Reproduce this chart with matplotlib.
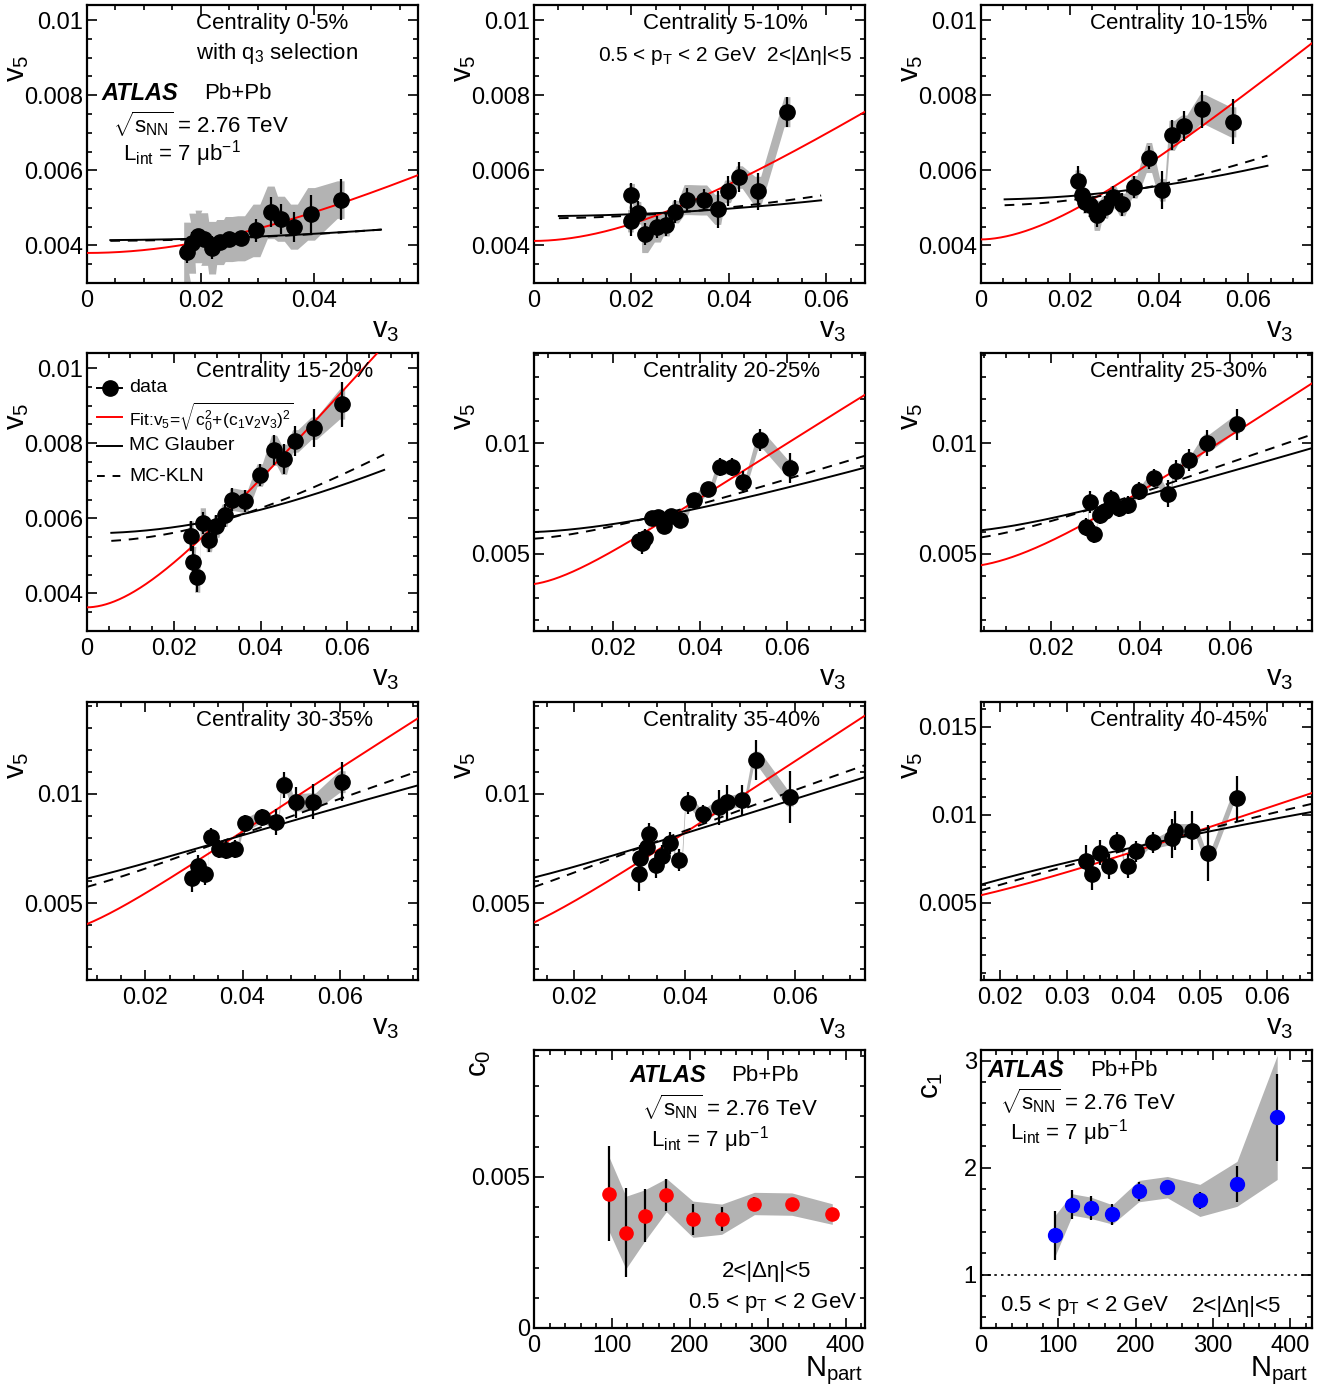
import numpy as np
import matplotlib
matplotlib.use("Agg")
import matplotlib.pyplot as plt
from matplotlib.ticker import MultipleLocator, FormatStrFormatter

plt.rcParams["font.family"] = ["Liberation Sans", "DejaVu Sans"]
plt.rcParams["mathtext.fontset"] = "custom"
plt.rcParams["mathtext.rm"] = "Liberation Sans"
plt.rcParams["mathtext.it"] = "Liberation Sans:italic"
plt.rcParams["mathtext.bf"] = "Liberation Sans:bold"
plt.rcParams["mathtext.default"] = "regular"

# ---- v5 vs v3 data, one block per centrality class ----
cent_labels = ["0-5%", "5-10%", "10-15%", "15-20%", "20-25%",
               "25-30%", "30-35%", "35-40%", "40-45%"]

v3_0005 = [0.0176, 0.0185, 0.0196, 0.0206, 0.0220, 0.0234, 0.0249, 0.0271, 0.0298, 0.0323, 0.0341, 0.0364, 0.0394, 0.0446]
v5_0005 = [0.00382, 0.00406, 0.00424, 0.00417, 0.00394, 0.00409, 0.00417, 0.00419, 0.00440, 0.00488, 0.00471, 0.00450, 0.00484, 0.00522]
err_0005 = [0.0003, 0.0003, 0.0002, 0.0002, 0.0003, 0.0002, 0.0002, 0.0002, 0.0003, 0.0004, 0.0004, 0.0004, 0.0005, 0.00055]
sys_0005 = [0.0008, 0.0008, 0.0007, 0.0007, 0.0007, 0.0006, 0.0006, 0.0006, 0.0007, 0.0007, 0.0006, 0.0006, 0.0007, 0.0005]

v3_0510 = [0.0198, 0.0200, 0.0213, 0.0227, 0.0253, 0.0271, 0.0290, 0.0314, 0.0348, 0.0377, 0.0397, 0.0421, 0.0459, 0.0519]
v5_0510 = [0.00466, 0.00535, 0.00487, 0.00431, 0.00449, 0.00455, 0.00490, 0.00522, 0.00521, 0.00496, 0.00544, 0.00582, 0.00544, 0.00756]
err_0510 = [0.0004, 0.0003, 0.0003, 0.0003, 0.0003, 0.0003, 0.0003, 0.0003, 0.0003, 0.0005, 0.0004, 0.0004, 0.0005, 0.0004]
sys_0510 = [0.0003, 0.0003, 0.0003, 0.0005, 0.0004, 0.0003, 0.0003, 0.0004, 0.0004, 0.0004, 0.0003, 0.0003, 0.0004, 0.0004]

v3_1015 = [0.0217, 0.0226, 0.0234, 0.0245, 0.0260, 0.0278, 0.0296, 0.0317, 0.0344, 0.0377, 0.0407, 0.0428, 0.0456, 0.0497, 0.0566]
v5_1015 = [0.00571, 0.00533, 0.00516, 0.00507, 0.00480, 0.00502, 0.00529, 0.00509, 0.00556, 0.00634, 0.00548, 0.00693, 0.00717, 0.00762, 0.00729]
err_1015 = [0.0004, 0.0003, 0.0003, 0.0003, 0.0003, 0.0003, 0.0003, 0.0003, 0.0003, 0.0003, 0.0005, 0.0004, 0.0004, 0.0005, 0.0006]
sys_1015 = [0.0003, 0.0003, 0.0003, 0.0003, 0.0004, 0.0003, 0.0003, 0.0003, 0.0003, 0.0004, 0.0003, 0.0004, 0.0003, 0.0004, 0.0004]

v3_1520 = [0.0240, 0.0245, 0.0254, 0.0267, 0.0281, 0.0298, 0.0317, 0.0335, 0.0364, 0.0398, 0.0431, 0.0454, 0.0480, 0.0523, 0.0588]
v5_1520 = [0.00553, 0.00485, 0.00443, 0.00588, 0.00541, 0.00579, 0.00608, 0.00650, 0.00646, 0.00715, 0.00781, 0.00757, 0.00806, 0.00840, 0.00904]
err_1520 = [0.0004, 0.0004, 0.0004, 0.0003, 0.0003, 0.0003, 0.0003, 0.0003, 0.0003, 0.0003, 0.0004, 0.0004, 0.0004, 0.0005, 0.0006]
sys_1520 = [0.0004, 0.0004, 0.0004, 0.0004, 0.0003, 0.0003, 0.0003, 0.0003, 0.0003, 0.0003, 0.0004, 0.0004, 0.0003, 0.0003, 0.0004]

v3_2025 = [0.0258, 0.0265, 0.0273, 0.0288, 0.0302, 0.0317, 0.0333, 0.0354, 0.0385, 0.0418, 0.0446, 0.0473, 0.0498, 0.0538, 0.0606]
v5_2025 = [0.00559, 0.00548, 0.00571, 0.00662, 0.00665, 0.00624, 0.00670, 0.00652, 0.00745, 0.00794, 0.00892, 0.00892, 0.00824, 0.01015, 0.00889]
err_2025 = [0.0004, 0.0005, 0.0004, 0.0003, 0.0003, 0.0003, 0.0003, 0.0003, 0.0003, 0.0003, 0.0004, 0.0004, 0.0005, 0.0005, 0.0007]
sys_2025 = [0.0003, 0.0003, 0.0003, 0.0003, 0.0003, 0.0003, 0.0003, 0.0003, 0.0003, 0.0003, 0.0003, 0.0003, 0.0003, 0.0004, 0.0004]

v3_2530 = [0.0278, 0.0287, 0.0295, 0.0309, 0.0321, 0.0334, 0.0353, 0.0373, 0.0397, 0.0431, 0.0462, 0.0479, 0.0509, 0.0548, 0.0615]
v5_2530 = [0.00620, 0.00735, 0.00589, 0.00674, 0.00692, 0.00750, 0.00708, 0.00720, 0.00786, 0.00844, 0.00773, 0.00874, 0.00927, 0.01003, 0.01086]
err_2530 = [0.0004, 0.0005, 0.0004, 0.0004, 0.0004, 0.0004, 0.0004, 0.0004, 0.0004, 0.0004, 0.0006, 0.0005, 0.0005, 0.0006, 0.0007]
sys_2530 = [0.0003, 0.0003, 0.0003, 0.0003, 0.0003, 0.0003, 0.0003, 0.0003, 0.0003, 0.0003, 0.0003, 0.0003, 0.0003, 0.0004, 0.0004]

v3_3035 = [0.0296, 0.0308, 0.0323, 0.0336, 0.0351, 0.0365, 0.0384, 0.0406, 0.0440, 0.0468, 0.0485, 0.0509, 0.0544, 0.0605]
v5_3035 = [0.00614, 0.00669, 0.00634, 0.00805, 0.00748, 0.00745, 0.00748, 0.00866, 0.00893, 0.00873, 0.01041, 0.00962, 0.00965, 0.01056]
err_3035 = [0.0006, 0.0005, 0.0005, 0.0004, 0.0004, 0.0004, 0.0004, 0.0004, 0.0004, 0.0006, 0.0006, 0.0007, 0.0008, 0.0009]
sys_3035 = [0.0003, 0.0003, 0.0003, 0.0003, 0.0003, 0.0003, 0.0003, 0.0003, 0.0003, 0.0003, 0.0004, 0.0004, 0.0004, 0.0005]

v3_3540 = [0.0318, 0.0319, 0.0332, 0.0336, 0.0348, 0.0359, 0.0373, 0.0389, 0.0407, 0.0433, 0.0462, 0.0476, 0.0504, 0.0530, 0.0591]
v5_3540 = [0.00636, 0.00708, 0.00758, 0.00818, 0.00677, 0.00715, 0.00776, 0.00697, 0.00958, 0.00909, 0.00939, 0.00962, 0.00973, 0.01155, 0.00985]
err_3540 = [0.0008, 0.0006, 0.0005, 0.0005, 0.0006, 0.0005, 0.0005, 0.0005, 0.0005, 0.0004, 0.0008, 0.0008, 0.0007, 0.0009, 0.0012]
sys_3540 = [0.0003, 0.0003, 0.0003, 0.0003, 0.0003, 0.0003, 0.0003, 0.0003, 0.0003, 0.0003, 0.0003, 0.0003, 0.0003, 0.0004, 0.0004]

v3_4045 = [0.0329, 0.0337, 0.0349, 0.0363, 0.0375, 0.0392, 0.0404, 0.0430, 0.0458, 0.0463, 0.0488, 0.0512, 0.0555]
v5_4045 = [0.00736, 0.00660, 0.00783, 0.00706, 0.00843, 0.00708, 0.00792, 0.00843, 0.00866, 0.00909, 0.00909, 0.00783, 0.01092]
err_4045 = [0.0009, 0.0009, 0.0007, 0.0007, 0.0006, 0.0007, 0.0006, 0.0006, 0.0011, 0.0011, 0.0011, 0.0016, 0.0013]
sys_4045 = [0.0003, 0.0003, 0.0003, 0.0003, 0.0003, 0.0003, 0.0003, 0.0003, 0.0004, 0.0004, 0.0004, 0.0004, 0.0004]

# fit v5 = sqrt(c0^2 + (k v3^p)^2)  (k v3^p stands for c1 v2 v3)
fit_c0 = [0.0038, 0.00412, 0.00416, 0.00363, 0.0036, 0.0044, 0.0036, 0.0032, 0.0045]
fit_k = [0.0769, 0.0816, 0.0873, 0.1205, 0.1021, 0.1211, 0.1188, 0.1511, 0.1175]
fit_p = [1.0, 0.95, 0.9, 0.93, 0.85, 0.91, 0.86, 0.93, 0.9]

# MC model curves, same form
glb_a = [0.00414, 0.00478, 0.00522, 0.0056, 0.00598, 0.0060, 0.0058, 0.0056, 0.0040]
glb_b = [0.030, 0.0348, 0.0497, 0.0681, 0.0549, 0.0522, 0.046, 0.0607, 0.0397]
glb_p = [1.0, 1.0, 1.0, 1.0, 0.83, 0.75, 0.65, 0.72, 0.535]
kln_a = [0.00412, 0.00472, 0.00506, 0.00538, 0.00567, 0.00565, 0.0054, 0.0049, 0.0040]
kln_b = [0.031, 0.042, 0.0607, 0.0804, 0.0539, 0.0575, 0.0584, 0.0639, 0.0571]
kln_p = [1.0, 1.0, 1.0, 1.0, 0.77, 0.74, 0.70, 0.70, 0.65]
mc_xmin = [0.0041, 0.0051, 0.0053, 0.0056, 0.0017, 0.0043, 0.008, 0.0127, 0.0171]
mc_xmax = [0.0517, 0.0589, 0.0643, 0.0685, 0.0779, 0.0784, 0.0761, 0.0727, 0.0668]

# ---- fit parameters vs Npart ----
npart = [96, 118, 142, 170, 204, 241, 283, 331, 383]
c0_val = [0.00445, 0.00316, 0.00372, 0.00440, 0.00360, 0.00360, 0.00412, 0.00410, 0.00377]
c0_err = [0.00158, 0.00146, 0.00087, 0.00052, 0.00051, 0.0004, 0.0002, 0.0001, 0.0001]
c0_sys = [0.00123, 0.0012, 0.00085, 0.00055, 0.0006, 0.0005, 0.00037, 0.00037, 0.00034]
c1_val = [1.366, 1.655, 1.624, 1.562, 1.780, 1.817, 1.693, 1.848, 2.469]
c1_err = [0.23, 0.14, 0.11, 0.10, 0.09, 0.07, 0.08, 0.17, 0.41]
c1_sys = [0.19, 0.10, 0.10, 0.09, 0.10, 0.10, 0.15, 0.21, 0.58]

v3_sets = [v3_0005, v3_0510, v3_1015, v3_1520, v3_2025, v3_2530, v3_3035, v3_3540, v3_4045]
v5_sets = [v5_0005, v5_0510, v5_1015, v5_1520, v5_2025, v5_2530, v5_3035, v5_3540, v5_4045]
err_sets = [err_0005, err_0510, err_1015, err_1520, err_2025, err_2530, err_3035, err_3540, err_4045]
sys_sets = [sys_0005, sys_0510, sys_1015, sys_1520, sys_2025, sys_2530, sys_3035, sys_3540, sys_4045]

xlims = [(0, 0.0582), (0, 0.0679), (0, 0.0743), (0, 0.0763), (0.0017, 0.0779),
         (0.0043, 0.0784), (0.008, 0.0761), (0.0127, 0.0727), (0.0171, 0.0668)]
ylims = [(0.003, 0.0104)] * 4 + [(0.0015, 0.0141)] * 2 + [(0.0015, 0.0142)] * 2 + [(0.0006, 0.0164)]

GRAY = "#b3b3b3"
W, H = 1338, 1391
col_left = [87, 534, 981]
row_top = [5, 353, 702, 1050]
AW, AH = 331, 278

fig = plt.figure(figsize=(W / 100, H / 100), dpi=100)


def make_axes(r, c):
    l = col_left[c]
    t = row_top[r]
    ax = fig.add_axes([l / W, 1 - (t + AH) / H, AW / W, AH / H])
    for sp in ax.spines.values():
        sp.set_linewidth(1.6)
    ax.tick_params(which="both", direction="in", top=True, right=True, width=1.2, labelsize=17)
    ax.tick_params(which="major", length=7.5)
    ax.tick_params(which="minor", length=3.8)
    ax.tick_params(axis="x", pad=5)
    ax.tick_params(axis="y", pad=3)
    return ax


def band(ax, x, y, s, dx):
    x = np.asarray(x); y = np.asarray(y); s = np.asarray(s)
    xs = np.column_stack([x - dx, x + dx]).ravel()
    ax.fill_between(xs, np.repeat(y - s, 2), np.repeat(y + s, 2), color=GRAY, lw=0, zorder=1)


def curve(x, a, b, p):
    return np.sqrt(a ** 2 + (b * x ** p) ** 2)


for i in range(9):
    r, c = divmod(i, 3)
    ax = make_axes(r, c)
    x0, x1 = xlims[i]
    band(ax, v3_sets[i], v5_sets[i], sys_sets[i], 0.0006)
    xx = np.linspace(x0, x1, 400)
    ax.plot(xx, curve(xx, fit_c0[i], fit_k[i], fit_p[i]), color="red", lw=1.4, zorder=3)
    xm = np.linspace(mc_xmin[i], mc_xmax[i], 300)
    ax.plot(xm, curve(xm, glb_a[i], glb_b[i], glb_p[i]), color="black", lw=1.4, zorder=3)
    ax.plot(xm, curve(xm, kln_a[i], kln_b[i], kln_p[i]), color="black", lw=1.4, ls=(0, (5, 4)), zorder=3)
    ax.errorbar(v3_sets[i], v5_sets[i], yerr=err_sets[i], fmt="o", color="black",
                ms=11, elinewidth=1.6, capsize=0, zorder=4)
    ax.set_xlim(x0, x1)
    ax.set_ylim(*ylims[i])
    if i == 8:
        ax.xaxis.set_major_locator(MultipleLocator(0.01))
        ax.xaxis.set_minor_locator(MultipleLocator(0.0025))
    else:
        ax.xaxis.set_major_locator(MultipleLocator(0.02))
        ax.xaxis.set_minor_locator(MultipleLocator(0.005))
    if i < 4:
        ax.yaxis.set_major_locator(MultipleLocator(0.002))
        ax.yaxis.set_minor_locator(MultipleLocator(0.0005))
    else:
        ax.yaxis.set_major_locator(MultipleLocator(0.005))
        ax.yaxis.set_minor_locator(MultipleLocator(0.001))
    ax.xaxis.set_major_formatter(FormatStrFormatter("%g"))
    ax.yaxis.set_major_formatter(FormatStrFormatter("%g"))
    ax.set_xlabel("v$_3$", fontsize=21, loc="right")
    ax.xaxis.set_label_coords(0.945, -0.12)
    ax.set_ylabel("v$_5$", fontsize=21, loc="top")
    ax.yaxis.set_label_coords(-0.17, 0.82)
    ax.text(0.329, 0.932, "Centrality " + cent_labels[i], transform=ax.transAxes,
            fontsize=16, va="center", ha="left")

    if i == 0:
        ax.text(0.329, 0.824, "with q$_3$ selection", transform=ax.transAxes, fontsize=16, va="center")
        ax.text(0.045, 0.683, "ATLAS", transform=ax.transAxes, fontsize=17, va="center",
                fontweight="bold", fontstyle="italic")
        ax.text(0.353, 0.683, "Pb+Pb", transform=ax.transAxes, fontsize=16, va="center")
        ax.text(0.079, 0.572, r"$\sqrt{s_{NN}}$ = 2.76 TeV", transform=ax.transAxes, fontsize=16, va="center")
        ax.text(0.109, 0.464, "L$_{int}$ = 7 μb$^{-1}$", transform=ax.transAxes, fontsize=16, va="center")
    if i == 1:
        ax.text(0.193, 0.817, "0.5 < p$_T$ < 2 GeV  2<|Δη|<5", transform=ax.transAxes,
                fontsize=15, va="center")
    if i == 3:
        ys = [0.875, 0.771, 0.667, 0.556]
        tr = ax.transAxes
        ax.plot([0.03, 0.106], [ys[0], ys[0]], color="black", lw=1.4, transform=tr)
        ax.plot([0.068], [ys[0]], "o", color="black", ms=11, transform=tr)
        ax.plot([0.03, 0.106], [ys[1], ys[1]], color="red", lw=1.4, transform=tr)
        ax.plot([0.03, 0.106], [ys[2], ys[2]], color="black", lw=1.4, transform=tr)
        ax.plot([0.03, 0.106], [ys[3], ys[3]], color="black", lw=1.4, ls=(0, (4, 4)), transform=tr)
        ax.text(0.127, ys[0], "data", transform=tr, fontsize=14, va="center")
        ax.text(0.127, ys[1], r"Fit:v$_5$=$\sqrt{c_0^2\!+\!(c_1v_2v_3)^2}$", transform=tr, fontsize=12.5, va="center")
        ax.text(0.127, ys[2], "MC Glauber", transform=tr, fontsize=14, va="center")
        ax.text(0.127, ys[3], "MC-KLN", transform=tr, fontsize=14, va="center")

# ---- c0 vs Npart ----
ax = make_axes(3, 1)
band(ax, npart, c0_val, c0_sys, 0)
ax.errorbar(npart, c0_val, yerr=c0_err, fmt="o", color="red", ecolor="black",
            ms=9.5, elinewidth=1.6, capsize=0, zorder=4)
ax.set_xlim(0, 425)
ax.set_ylim(0, 0.0092)
ax.xaxis.set_major_locator(MultipleLocator(100))
ax.xaxis.set_minor_locator(MultipleLocator(20))
ax.yaxis.set_major_locator(MultipleLocator(0.005))
ax.yaxis.set_minor_locator(MultipleLocator(0.001))
ax.yaxis.set_major_formatter(FormatStrFormatter("%g"))
ax.set_xlabel("N$_{part}$", fontsize=21, loc="right")
ax.xaxis.set_label_coords(0.995, -0.095)
ax.set_ylabel("c$_0$", fontsize=21, loc="top")
ax.yaxis.set_label_coords(-0.125, 1.0)
tr = ax.transAxes
ax.text(0.287, 0.907, "ATLAS", transform=tr, fontsize=17, va="center", fontweight="bold", fontstyle="italic")
ax.text(0.595, 0.907, "Pb+Pb", transform=tr, fontsize=16, va="center")
ax.text(0.326, 0.792, r"$\sqrt{s_{NN}}$ = 2.76 TeV", transform=tr, fontsize=16, va="center")
ax.text(0.353, 0.677, "L$_{int}$ = 7 μb$^{-1}$", transform=tr, fontsize=16, va="center")
ax.text(0.568, 0.204, "2<|Δη|<5", transform=tr, fontsize=16, va="center")
ax.text(0.465, 0.090, "0.5 < p$_T$ < 2 GeV", transform=tr, fontsize=16, va="center")

# ---- c1 vs Npart ----
ax = make_axes(3, 2)
band(ax, npart, c1_val, c1_sys, 0)
ax.axhline(1, color="black", lw=1.2, ls=(0, (1.5, 2.5)))
ax.errorbar(npart, c1_val, yerr=c1_err, fmt="o", color="blue", ecolor="black",
            ms=10, elinewidth=1.6, capsize=0, zorder=4)
ax.set_xlim(0, 428)
ax.set_ylim(0.5, 3.1)
ax.xaxis.set_major_locator(MultipleLocator(100))
ax.xaxis.set_minor_locator(MultipleLocator(20))
ax.yaxis.set_major_locator(MultipleLocator(1))
ax.yaxis.set_minor_locator(MultipleLocator(0.2))
ax.set_xlabel("N$_{part}$", fontsize=21, loc="right")
ax.xaxis.set_label_coords(0.99, -0.095)
ax.set_ylabel("c$_1$", fontsize=21, loc="top")
ax.yaxis.set_label_coords(-0.11, 0.92)
tr = ax.transAxes
ax.text(0.021, 0.928, "ATLAS", transform=tr, fontsize=17, va="center", fontweight="bold", fontstyle="italic")
ax.text(0.329, 0.928, "Pb+Pb", transform=tr, fontsize=16, va="center")
ax.text(0.057, 0.817, r"$\sqrt{s_{NN}}$ = 2.76 TeV", transform=tr, fontsize=16, va="center")
ax.text(0.088, 0.703, "L$_{int}$ = 7 μb$^{-1}$", transform=tr, fontsize=16, va="center")
ax.text(0.057, 0.079, "0.5 < p$_T$ < 2 GeV", transform=tr, fontsize=16, va="center")
ax.text(0.637, 0.079, "2<|Δη|<5", transform=tr, fontsize=16, va="center")

fig.savefig("out.png", dpi=100)
